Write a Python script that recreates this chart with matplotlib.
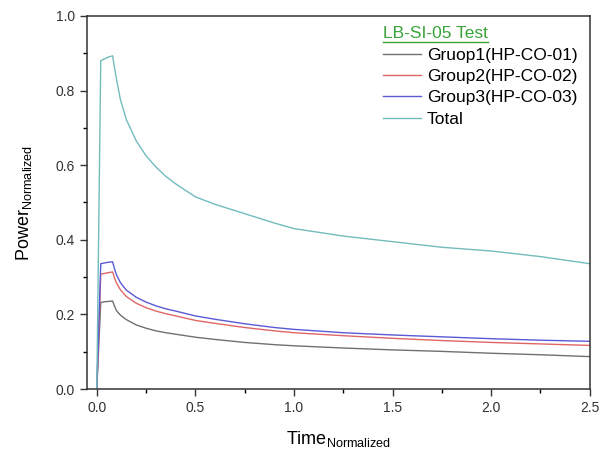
import matplotlib
matplotlib.use("Agg")
import matplotlib.pyplot as plt
from matplotlib.lines import Line2D
from matplotlib.ticker import MultipleLocator

plt.rcParams['font.family'] = ['Liberation Sans', 'DejaVu Sans']
plt.rcParams['mathtext.fontset'] = 'custom'
plt.rcParams['mathtext.rm'] = 'Liberation Sans'

# time axis (normalized)
time = [0.0, 0.02, 0.04, 0.06, 0.08, 0.09, 0.10, 0.12, 0.15, 0.20, 0.25, 0.30, 0.35,
        0.40, 0.50, 0.60, 0.75, 0.90, 1.00, 1.25, 1.50, 1.75, 2.00, 2.25, 2.50]

group1 = [0.0, 0.232, 0.234, 0.235, 0.236, 0.222, 0.210, 0.198, 0.186, 0.172, 0.163, 0.156, 0.151,
          0.147, 0.139, 0.133, 0.125, 0.119, 0.116, 0.110, 0.105, 0.101, 0.096, 0.092, 0.087]
group2 = [0.0, 0.308, 0.310, 0.312, 0.314, 0.298, 0.284, 0.266, 0.248, 0.230, 0.218, 0.209, 0.202,
          0.196, 0.184, 0.176, 0.165, 0.156, 0.151, 0.143, 0.136, 0.130, 0.125, 0.121, 0.117]
group3 = [0.0, 0.336, 0.338, 0.340, 0.341, 0.322, 0.306, 0.285, 0.265, 0.246, 0.233, 0.223, 0.215,
          0.209, 0.196, 0.187, 0.175, 0.165, 0.160, 0.151, 0.145, 0.140, 0.135, 0.131, 0.128]
total = [0.0, 0.880, 0.885, 0.890, 0.893, 0.860, 0.830, 0.775, 0.722, 0.665, 0.625, 0.595, 0.570,
         0.550, 0.515, 0.495, 0.470, 0.445, 0.430, 0.410, 0.395, 0.380, 0.370, 0.355, 0.336]

labels = ["Gruop1(HP-CO-01)", "Group2(HP-CO-02)", "Group3(HP-CO-03)", "Total"]
colors = ["#707070", "#e06666", "#5a5ad6", "#72bcbc"]

fig = plt.figure(figsize=(6.08, 4.54), dpi=100)
ax = fig.add_axes([0.143, 0.143, 0.827, 0.822])

for series, lab, col in zip([group1, group2, group3, total], labels, colors):
    ax.plot(time, series, color=col, lw=1.0, label=lab)

ax.set_xlim(-0.05, 2.5)
ax.set_ylim(0.0, 1.0)
ax.xaxis.set_major_locator(MultipleLocator(0.5))
ax.xaxis.set_minor_locator(MultipleLocator(0.25))
ax.yaxis.set_major_locator(MultipleLocator(0.2))
ax.yaxis.set_minor_locator(MultipleLocator(0.1))
ax.tick_params(which='major', direction='out', length=5, width=1, labelsize=10, colors='#333333')
ax.tick_params(which='minor', direction='out', length=3, width=1)
for s in ax.spines.values():
    s.set_linewidth(1.1)
    s.set_color('#333333')

ax.set_xlabel(r"Time$_{\mathrm{Normalized}}$", fontsize=13, labelpad=10)
ax.set_ylabel(r"Power$_{\mathrm{Normalized}}$", fontsize=13, labelpad=16)

leg = ax.legend(loc='upper right', bbox_to_anchor=(1.0, 1.005), frameon=False,
                fontsize=12.5, handlelength=2.2, handletextpad=0.35, labelspacing=0.36,
                borderaxespad=0.3, title="LB-SI-05 Test", title_fontsize=12.5, alignment='left')
leg.get_title().set_color('#3aa33a')

# underline the legend title
fig.canvas.draw()
bb = leg.get_title().get_window_extent()
inv = fig.transFigure.inverted()
(x0, y0), (x1, _) = inv.transform([(bb.x0, bb.y0 - 1), (bb.x1, bb.y0)])
fig.add_artist(Line2D([x0, x1], [y0, y0], color='#3aa33a', lw=1.0, transform=fig.transFigure))

fig.savefig("out.png", dpi=100)
